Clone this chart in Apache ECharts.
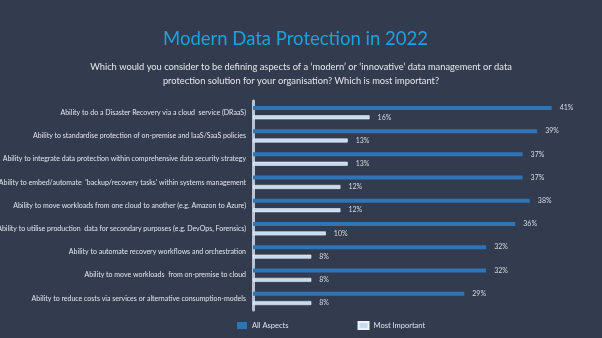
<!DOCTYPE html>
<html><head><meta charset="utf-8">
<script src="https://cdn.jsdelivr.net/npm/echarts@6/dist/echarts.min.js"></script>
<style>html,body{margin:0;padding:0;background:#323c4e;}#c{width:602px;height:338px;}</style>
</head><body><div id="c"></div>
<script>
const categories = [
  "Ability to do a Disaster Recovery via a cloud  service (DRaaS)",
  "Ability to standardise protection of on-premise and IaaS/SaaS policies",
  "Ability to integrate data protection within comprehensive data security strategy",
  "Ability to embed/automate  'backup/recovery tasks' within systems management",
  "Ability to move workloads from one cloud to another (e.g. Amazon to Azure)",
  "Ability to utilise production  data for secondary purposes (e.g. DevOps, Forensics)",
  "Ability to automate recovery workflows and orchestration",
  "Ability to move workloads  from on-premise to cloud",
  "Ability to reduce costs via services or alternative consumption-models"
];
const allAspects = [41, 39, 37, 37, 38, 36, 32, 32, 29];
const mostImportant = [16, 13, 13, 12, 12, 10, 8, 8, 8];
const seriesNames = ["All Aspects", "Most Important"];

const chart = echarts.init(document.getElementById('c'), null, {renderer: 'canvas'});
const font = 'Lato, "Open Sans", sans-serif';
chart.setOption({
  backgroundColor: '#323c4e',
  animation: false,
  title: [{
    text: 'Modern Data Protection in 2022',
    left: 158, top: 25,
    textStyle: {color: '#1aa3e0', fontSize: 18.5, fontWeight: 'normal', fontFamily: font}
  }, {
    text: 'Which would you consider to be defining aspects of a \u2018modern\u2019 or \u2018innovative\u2019 data management or data\nprotection solution for your organisation? Which is most important?',
    left: 'center', top: 55,
    textStyle: {color: '#e6e8ec', fontSize: 9.3, fontWeight: 'normal', fontFamily: font, lineHeight: 14, align: 'center'}
  }],
  legend: {
    data: seriesNames,
    left: 232, top: 316,
    itemWidth: 10, itemHeight: 7, itemGap: 69,
    icon: 'rect',
    textStyle: {color: '#dfe3ea', fontSize: 7.5, fontFamily: font}
  },
  grid: {left: 253, right: 43, top: 101, bottom: 28, containLabel: false, outerBoundsMode: 'none'},
  xAxis: {
    type: 'value', min: 0, max: 42,
    show: false
  },
  yAxis: {
    type: 'category', data: categories, inverse: true,
    axisLine: {show: true, lineStyle: {color: '#b9c3d1', width: 3}},
    axisTick: {show: false},
    splitLine: {show: false},
    axisLabel: {color: '#e3e6ec', fontSize: 7, fontFamily: font, margin: 7}
  },
  series: [{
    name: seriesNames[0], type: 'bar', data: allAspects,
    barWidth: 4, barGap: '135%',
    itemStyle: {color: '#2e75b6'},
    label: {show: true, position: 'right', distance: 8, formatter: '{c}%', color: '#d6dae2', fontSize: 7, fontFamily: font}
  }, {
    name: seriesNames[1], type: 'bar', data: mostImportant,
    barWidth: 4,
    itemStyle: {color: '#c6dbf0', borderColor: '#eef4fb', borderWidth: 0.6},
    label: {show: true, position: 'right', distance: 8, formatter: '{c}%', color: '#d6dae2', fontSize: 7, fontFamily: font}
  }]
});
</script></body></html>
